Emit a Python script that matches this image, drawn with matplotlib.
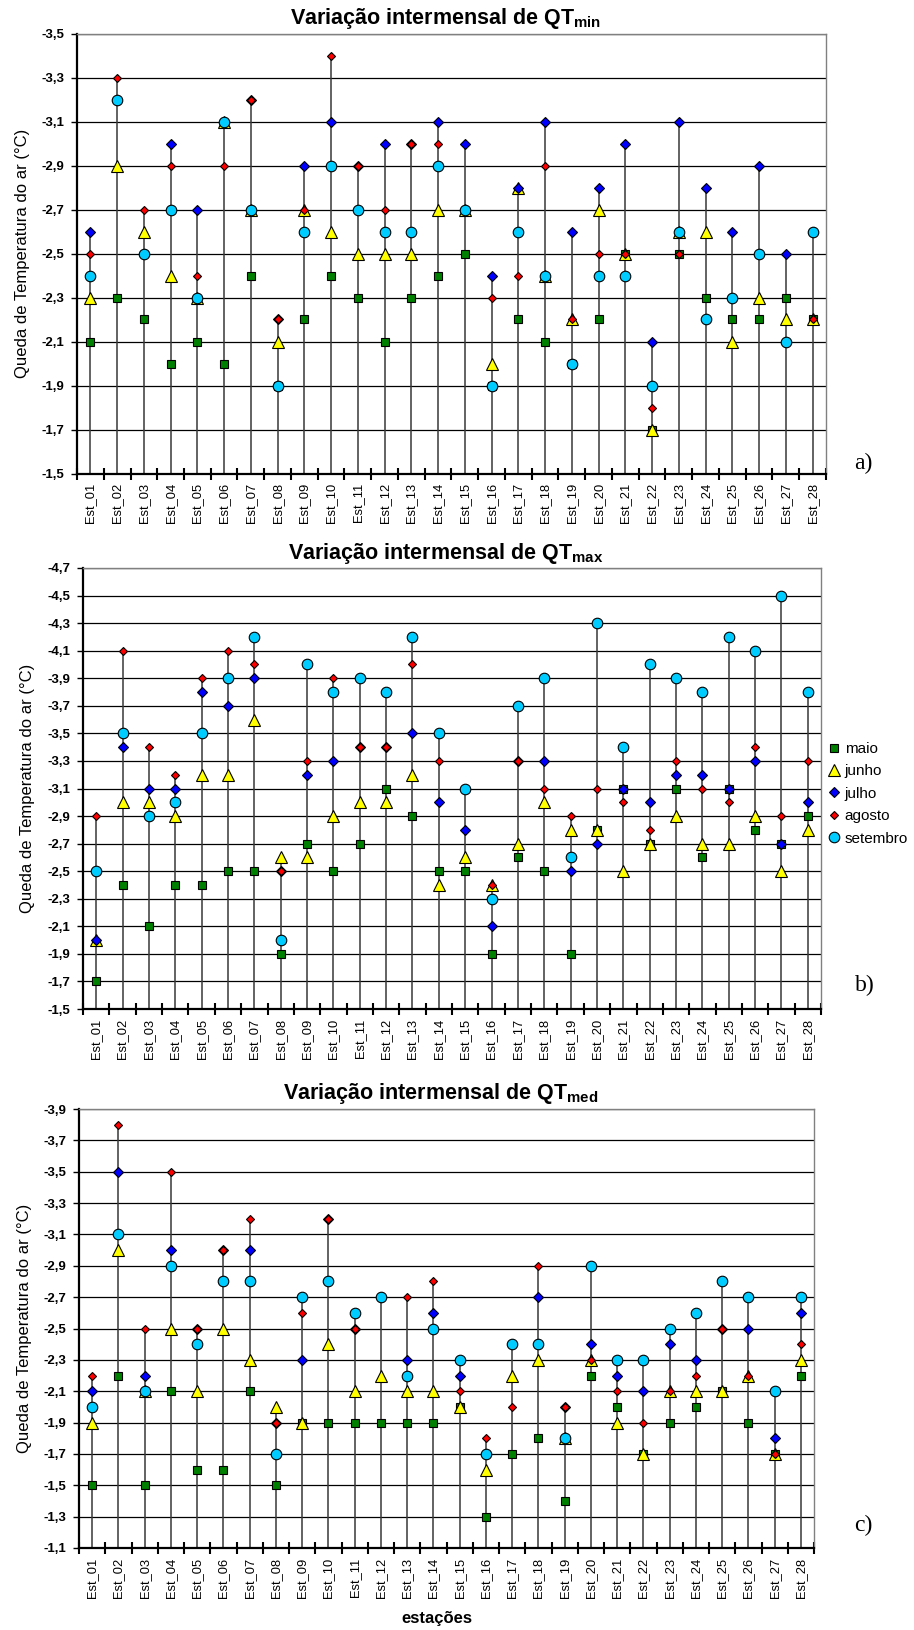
import matplotlib
matplotlib.use("Agg")
import matplotlib.pyplot as plt
from matplotlib.lines import Line2D
import numpy as np

plt.rcParams['font.family'] = ['Liberation Sans', 'DejaVu Sans']
plt.rcParams['mathtext.fontset'] = 'custom'
plt.rcParams['mathtext.rm'] = 'Liberation Sans'
plt.rcParams['mathtext.bf'] = 'Liberation Sans:bold'

stations = [f"Est_{i:02d}" for i in range(1, 29)]
series_names = ["maio", "junho", "julho", "agosto", "setembro"]

# ---- QT min ----
min_maio = [-2.1, -2.3, -2.2, -2.0, -2.1, -2.0, -2.4, -1.9, -2.2, -2.4, -2.3, -2.1, -2.3, -2.4,
            -2.5, -1.9, -2.2, -2.1, -2.0, -2.2, -2.5, -1.7, -2.5, -2.3, -2.2, -2.2, -2.3, -2.2]
min_junho = [-2.3, -2.9, -2.6, -2.4, -2.3, -3.1, -2.7, -2.1, -2.7, -2.6, -2.5, -2.5, -2.5, -2.7,
             -2.7, -2.0, -2.8, -2.4, -2.2, -2.7, -2.5, -1.7, -2.6, -2.6, -2.1, -2.3, -2.2, -2.2]
min_julho = [-2.6, -3.2, -2.5, -3.0, -2.7, -3.1, -3.2, -2.2, -2.9, -3.1, -2.9, -3.0, -3.0, -3.1,
             -3.0, -2.4, -2.8, -3.1, -2.6, -2.8, -3.0, -2.1, -3.1, -2.8, -2.6, -2.9, -2.5, -2.6]
min_agosto = [-2.5, -3.3, -2.7, -2.9, -2.4, -2.9, -3.2, -2.2, -2.7, -3.4, -2.9, -2.7, -3.0, -3.0,
              -2.7, -2.3, -2.4, -2.9, -2.2, -2.5, -2.5, -1.8, -2.5, -2.2, -2.3, -2.5, -2.1, -2.2]
min_setembro = [-2.4, -3.2, -2.5, -2.7, -2.3, -3.1, -2.7, -1.9, -2.6, -2.9, -2.7, -2.6, -2.6, -2.9,
                -2.7, -1.9, -2.6, -2.4, -2.0, -2.4, -2.4, -1.9, -2.6, -2.2, -2.3, -2.5, -2.1, -2.6]

# ---- QT max ----
max_maio = [-1.7, -2.4, -2.1, -2.4, -2.4, -2.5, -2.5, -1.9, -2.7, -2.5, -2.7, -3.1, -2.9, -2.5,
            -2.5, -1.9, -2.6, -2.5, -1.9, -2.8, -3.1, -2.7, -3.1, -2.6, -3.1, -2.8, -2.7, -2.9]
max_junho = [-2.0, -3.0, -3.0, -2.9, -3.2, -3.2, -3.6, -2.6, -2.6, -2.9, -3.0, -3.0, -3.2, -2.4,
             -2.6, -2.4, -2.7, -3.0, -2.8, -2.8, -2.5, -2.7, -2.9, -2.7, -2.7, -2.9, -2.5, -2.8]
max_julho = [-2.0, -3.4, -3.1, -3.1, -3.8, -3.7, -3.9, -2.5, -3.2, -3.3, -3.4, -3.4, -3.5, -3.0,
             -2.8, -2.1, -3.3, -3.3, -2.5, -2.7, -3.1, -3.0, -3.2, -3.2, -3.1, -3.3, -2.7, -3.0]
max_agosto = [-2.9, -4.1, -3.4, -3.2, -3.9, -4.1, -4.0, -2.5, -3.3, -3.9, -3.4, -3.4, -4.0, -3.3,
              -3.1, -2.4, -3.3, -3.1, -2.9, -3.1, -3.0, -2.8, -3.3, -3.1, -3.0, -3.4, -2.9, -3.3]
max_setembro = [-2.5, -3.5, -2.9, -3.0, -3.5, -3.9, -4.2, -2.0, -4.0, -3.8, -3.9, -3.8, -4.2, -3.5,
                -3.1, -2.3, -3.7, -3.9, -2.6, -4.3, -3.4, -4.0, -3.9, -3.8, -4.2, -4.1, -4.5, -3.8]

# ---- QT med ----
med_maio = [-1.5, -2.2, -1.5, -2.1, -1.6, -1.6, -2.1, -1.5, -1.9, -1.9, -1.9, -1.9, -1.9, -1.9,
            -2.0, -1.3, -1.7, -1.8, -1.4, -2.2, -2.0, -1.7, -1.9, -2.0, -2.1, -1.9, -1.7, -2.2]
med_junho = [-1.9, -3.0, -2.1, -2.5, -2.1, -2.5, -2.3, -2.0, -1.9, -2.4, -2.1, -2.2, -2.1, -2.1,
             -2.0, -1.6, -2.2, -2.3, -1.8, -2.3, -1.9, -1.7, -2.1, -2.1, -2.1, -2.2, -1.7, -2.3]
med_julho = [-2.1, -3.5, -2.2, -3.0, -2.5, -3.0, -3.0, -1.9, -2.3, -3.2, -2.5, -2.7, -2.3, -2.6,
             -2.2, -1.7, -2.4, -2.7, -2.0, -2.4, -2.2, -2.1, -2.4, -2.3, -2.5, -2.5, -1.8, -2.6]
med_agosto = [-2.2, -3.8, -2.5, -3.5, -2.5, -3.0, -3.2, -1.9, -2.6, -3.2, -2.5, -2.7, -2.7, -2.8,
              -2.1, -1.8, -2.0, -2.9, -2.0, -2.3, -2.1, -1.9, -2.1, -2.2, -2.5, -2.2, -1.7, -2.4]
med_setembro = [-2.0, -3.1, -2.1, -2.9, -2.4, -2.8, -2.8, -1.7, -2.7, -2.8, -2.6, -2.7, -2.2, -2.5,
                -2.3, -1.7, -2.4, -2.4, -1.8, -2.9, -2.3, -2.3, -2.5, -2.6, -2.8, -2.7, -2.1, -2.7]

panel_titles = [r"Variação intermensal de QT$_{\mathbf{min}}$",
                r"Variação intermensal de QT$_{\mathbf{max}}$",
                r"Variação intermensal de QT$_{\mathbf{med}}$"]
panel_letters = ["a)", "b)", "c)"]
ylims = [(-1.5, -3.5), (-1.5, -4.7), (-1.1, -3.9)]

panels = [
    [min_maio, min_junho, min_julho, min_agosto, min_setembro],
    [max_maio, max_junho, max_julho, max_agosto, max_setembro],
    [med_maio, med_junho, med_julho, med_agosto, med_setembro],
]

# marker styles per series
styles = [
    dict(marker='s', color='#008000', ms=6.0),
    dict(marker='^', color='#FFFF00', ms=8.6),
    dict(marker='D', color='#0000FF', ms=5.6),
    dict(marker='D', color='#FF0000', ms=3.9),
    dict(marker='o', color='#00CCFF', ms=7.6),
]

W, H = 914, 1630
fig = plt.figure(figsize=(W / 100, H / 100), dpi=100)

# axes boxes in pixels: left, right, top, bottom
boxes = [(77, 826, 33.5, 473.5), (83, 821, 568, 1009), (79, 814, 1109, 1548)]
ylabel_x = [23, 28, 25]
letter_pos = [(863, 463), (865, 985), (863, 1525)]

for k in range(3):
    l, r, t, b = boxes[k]
    ax = fig.add_axes([l / W, 1 - b / H, (r - l) / W, (b - t) / H])
    data = panels[k]
    x = np.arange(len(stations))
    lo, hi = ylims[k]
    ax.set_xlim(-0.5, len(stations) - 0.5)
    ax.set_ylim(lo, hi)

    ticks = np.round(np.arange(lo, hi - 0.001, -0.2), 1)
    ax.set_yticks(ticks)
    ax.set_yticklabels([f"{v:.1f}".replace('.', ',') for v in ticks],
                       fontsize=9.5, fontweight='bold')
    ax.tick_params(axis='y', direction='out', length=4, width=1, pad=5)
    for tv in ticks:
        ax.axhline(tv, color='black', lw=0.9, zorder=1)

    ax.set_xticks(x)
    ax.set_xticklabels(stations, rotation=90, fontsize=9.3)
    ax.tick_params(axis='x', which='major', length=0, pad=7)
    ax.set_xticks(np.arange(-0.5, len(stations)), minor=True)
    ax.tick_params(axis='x', which='minor', direction='inout', length=8, width=1.5)

    allv = np.array(data)
    tops = allv.min(axis=0)
    ax.vlines(x, lo, tops, color='#383838', lw=1.1, zorder=2)

    for vals, st in zip(data, styles):
        ax.plot(x, vals, linestyle='none', marker=st['marker'], markersize=st['ms'],
                markerfacecolor=st['color'], markeredgecolor='black',
                markeredgewidth=0.8, zorder=3, clip_on=False)

    for side in ['top', 'right']:
        ax.spines[side].set_color('#808080')
        ax.spines[side].set_linewidth(1.0)
    for side in ['left', 'bottom']:
        ax.spines[side].set_color('black')
        ax.spines[side].set_linewidth(1.6)
    ax.spines['bottom'].set_zorder(4)

    cx = (l + r) / 2 - 6
    fig.text(cx / W, 1 - (t - 15) / H, panel_titles[k], ha='center', va='center',
             fontsize=15.5, fontweight='bold')
    fig.text(ylabel_x[k] / W, 1 - ((t + b) / 2) / H, "Queda de Temperatura do ar (°C)",
             rotation=90, ha='center', va='center', fontsize=12)
    fig.text(letter_pos[k][0] / W, 1 - letter_pos[k][1] / H, panel_letters[k],
             ha='center', va='center', fontsize=17, family='Liberation Serif')

handles = [Line2D([], [], linestyle='none', marker=st['marker'], markersize=st['ms'],
                  markerfacecolor=st['color'], markeredgecolor='black', markeredgewidth=0.8)
           for st in styles]
fig.legend(handles, series_names, loc='upper left', bbox_to_anchor=(828 / W, 1 - 742 / H),
           frameon=False, fontsize=11, handlelength=0.8, handletextpad=0.3,
           labelspacing=0.55, borderaxespad=0, borderpad=0)

fig.text(437 / W, 1 - 1619 / H, "estações", ha='center', va='center',
         fontsize=12, fontweight='bold')

fig.savefig("out.png", dpi=100)
